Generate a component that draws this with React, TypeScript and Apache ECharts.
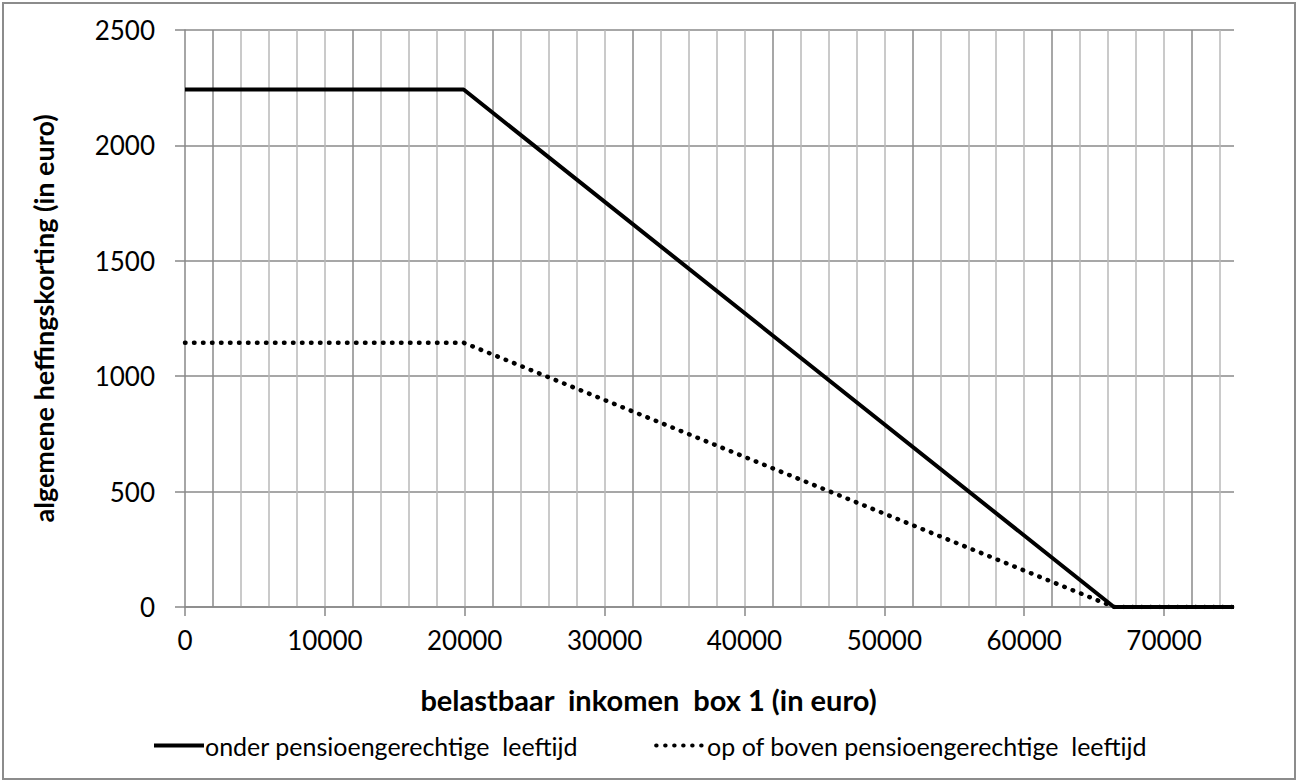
import React, { useEffect, useRef } from "react";
import * as echarts from "echarts";

const incomeBreaks = [0, 19922, 66417, 75000];
const underPension = [2242, 2242, 0, 0];
const abovePension = [1145, 1145, 0, 0];
const majorTicks = [0, 10000, 20000, 30000, 40000, 50000, 60000, 70000];
const seriesNames = ["onder pensioengerechtige  leeftijd", "op of boven pensioengerechtige  leeftijd"];
const xTitle = "belastbaar  inkomen  box 1 (in euro)";
const yTitle = "algemene heffingskorting (in euro)";

const FONT = "Lato, 'Noto Sans', sans-serif";

export default function App() {
  const ref = useRef<HTMLDivElement>(null);
  useEffect(() => {
    if (!ref.current) return;
    const chart = echarts.init(ref.current, undefined, { renderer: "svg" });
    const toPairs = (ys: number[]) => incomeBreaks.map((x, i) => [x, ys[i]]);
    chart.setOption({
      animation: false,
      backgroundColor: "#fff",
      textStyle: { fontFamily: FONT, color: "#000" },
      grid: { left: 185, right: 65, top: 30, bottom: 176, containLabel: false },
      graphic: [
        {
          type: "rect",
          shape: { x: 3, y: 3, width: 1292, height: 776 },
          style: { fill: "none", stroke: "#8c8c8c", lineWidth: 2 },
          silent: true,
        },
      ],
      legend: {
        top: 728,
        left: "center",
        itemWidth: 50,
        itemHeight: 20,
        itemGap: 76,
        itemStyle: { color: "transparent", borderColor: "transparent", borderWidth: 0, opacity: 0 },
        lineStyle: { width: 4 },
        textStyle: { fontSize: 25, fontFamily: FONT, color: "#000", padding: [0, 0, 0, -4] },
        data: seriesNames,
      },
      xAxis: [
        {
          type: "value",
          min: 0,
          max: 75000,
          interval: 10000,
          position: "bottom",
          name: xTitle,
          nameLocation: "middle",
          nameGap: 78,
          nameTextStyle: {
            fontSize: 29,
            fontWeight: "bold",
            fontFamily: FONT,
            color: "#000",
            padding: [0, 122, 0, 0],
          },
          axisLine: { show: true, lineStyle: { color: "#888", width: 1.5 } },
          axisTick: { show: true, length: 9, customValues: majorTicks, lineStyle: { color: "#888", width: 1.5 } },
          axisLabel: {
            customValues: majorTicks,
            fontSize: 26,
            margin: 20,
            color: "#000",
            fontFamily: FONT,
            formatter: (v: number) => String(v),
          },
          splitLine: { show: false },
          z: 3,
        },
        {
          type: "value",
          min: 0,
          max: 75000,
          interval: 2000,
          position: "bottom",
          axisLine: { show: false },
          axisTick: { show: false },
          axisLabel: { show: false },
          splitLine: {
            show: true,
            showMinLine: false,
            showMaxLine: false,
            lineStyle: { color: ["#8a8a8a", "#b8b8b8", "#b8b8b8", "#b8b8b8", "#b8b8b8"], width: 1.5 },
          },
        },
      ],
      yAxis: {
        type: "value",
        min: 0,
        max: 2500,
        interval: 500,
        name: yTitle,
        nameLocation: "middle",
        nameGap: 128,
        nameTextStyle: { fontSize: 27, fontWeight: "bold", fontFamily: FONT, color: "#000" },
        axisLine: { show: true, lineStyle: { color: "#888", width: 1.5 } },
        axisTick: { show: true, length: 10, lineStyle: { color: "#888", width: 1.5 } },
        axisLabel: { fontSize: 26, margin: 30, color: "#000", fontFamily: FONT, formatter: (v: number) => String(v) },
        splitLine: { show: true, lineStyle: { color: "#8a8a8a", width: 1.5 } },
      },
      series: [
        {
          name: seriesNames[0],
          type: "line",
          xAxisIndex: 0,
          data: toPairs(underPension),
          symbol: "none",
          lineStyle: { color: "#000", width: 4, join: "round" },
          itemStyle: { color: "#000" },
          z: 3,
        },
        {
          name: seriesNames[1],
          type: "line",
          xAxisIndex: 0,
          data: toPairs(abovePension),
          symbol: "none",
          lineStyle: { color: "#000", width: 4.5, type: [0.5, 8.5], cap: "round" },
          itemStyle: { color: "#000" },
          z: 2,
        },
      ],
    });
    return () => chart.dispose();
  }, []);
  return (
    <div
      ref={ref}
      style={{ position: "fixed", left: 0, top: 0, width: 1299, height: 783, background: "#fff" }}
    />
  );
}
